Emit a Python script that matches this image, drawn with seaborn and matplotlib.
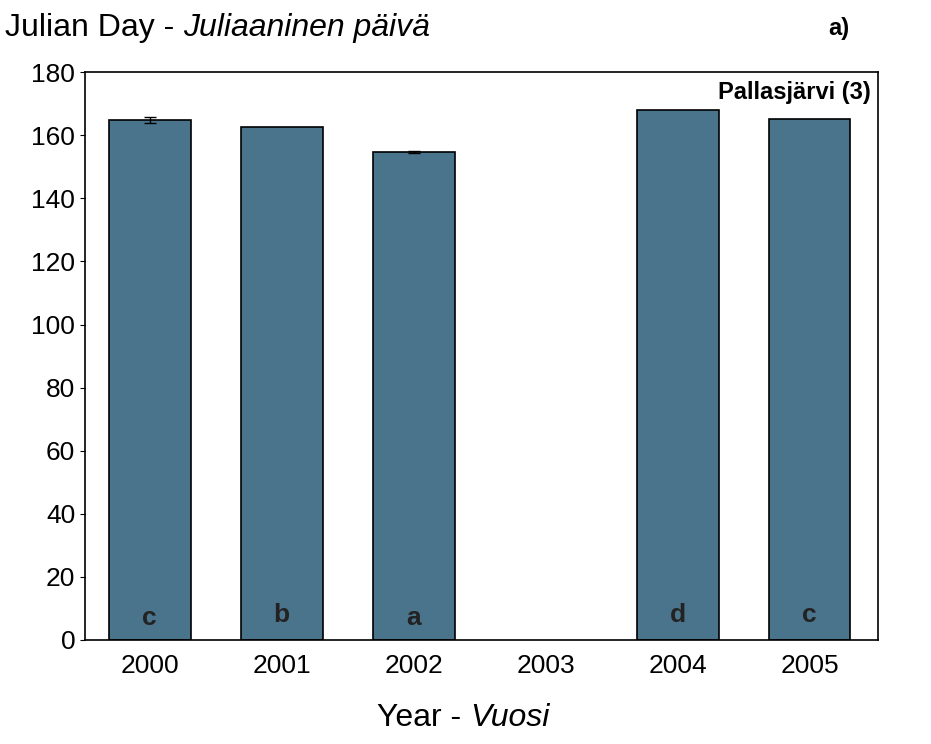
import matplotlib
matplotlib.use("Agg")
import matplotlib.pyplot as plt
import seaborn as sns
import pandas as pd
import numpy as np

# Data
years = ["2000", "2001", "2002", "2003", "2004", "2005"]
julian_day = [164.8, 162.5, 154.8, np.nan, 168.0, 165.0]
errors = [1.0, np.nan, 0.3, np.nan, np.nan, np.nan]
letters = ["c", "b", "a", "", "d", "c"]
letter_y = [7, 8, 7, 0, 8, 8]

plt.rcParams["font.family"] = "Liberation Sans"
df = pd.DataFrame({"year": years, "day": julian_day})

fig = plt.figure(figsize=(9.31, 7.44), dpi=100)
ax = fig.add_axes([0.0913, 0.1398, 0.852, 0.7632])
sns.barplot(data=df, x="year", y="day", color="#4a748c", saturation=1,
            width=0.62, edgecolor="black", linewidth=1.2, errorbar=None, ax=ax)
ax.errorbar(range(len(years)), julian_day, yerr=errors, fmt="none",
            ecolor="black", elinewidth=1, capsize=4)

for i, t in enumerate(letters):
    ax.text(i, letter_y[i], t, ha="center", va="center", fontsize=19, fontweight="bold", color="#222222")

ax.set_xlim(-0.49, 5.52)
ax.set_ylim(0, 180)
ax.set_yticks(range(0, 181, 20))
ax.tick_params(axis="both", labelsize=19)
ax.tick_params(axis="x", length=0, pad=10)
for s in ax.spines.values():
    s.set_linewidth(1.2)
ax.set_xlabel("")
ax.set_ylabel("")

ax.text(0.99, 0.985, "Pallasjärvi (3)", transform=ax.transAxes, ha="right", va="top",
        fontsize=17, fontweight="bold")
fig.text(0.89, 0.962, "a)", ha="left", va="center", fontsize=17, fontweight="bold")

renderer = fig.canvas.get_renderer()


def two_part(x, y, plain, italic, size):
    t = fig.text(x, y, plain, ha="left", va="center", fontsize=size)
    bb = t.get_window_extent(renderer)
    fig.text(bb.x1 / fig.bbox.width, y, italic, ha="left", va="center", fontsize=size, style="italic")


two_part(0.005, 0.962, "Julian Day - ", "Juliaaninen päivä", 23)
two_part(0.405, 0.035, "Year - ", "Vuosi", 23)

fig.savefig("out.png", dpi=100)
